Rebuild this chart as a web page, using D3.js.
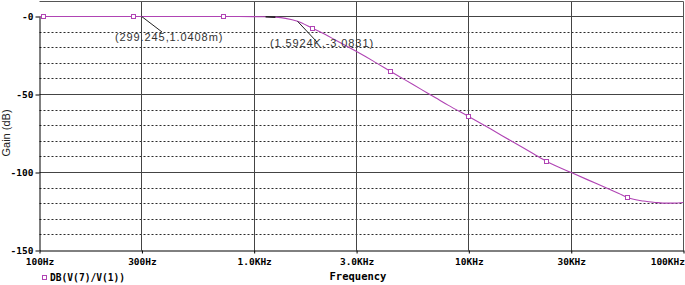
<!DOCTYPE html>
<html lang="en">
<head>
<meta charset="UTF-8">
<title>Gain vs Frequency</title>
<style>
  body { margin: 0; background: #fff; }
  svg { display: block; }
  .pix { font-family: "DejaVu Sans Mono", monospace; font-weight: bold; fill: #000; }
  .note { font-family: "Liberation Sans", Arial, sans-serif; font-size: 11px; letter-spacing: 0.9px; fill: #333; }
</style>
</head>
<body>
<svg width="685" height="285"></svg>
<script src="https://d3js.org/d3.v7.min.js"></script>
<script>
// trace DB(V(7)/V(1))
const freqs = [100, 200, 300, 500, 700, 1000, 1130, 1256, 1400, 1592.4, 1883, 2000, 2400, 3000, 3590,
               4347, 5000, 6000, 7000, 8000, 10070, 12600, 15630, 20000, 23170, 30000, 40000,
               50000, 55200, 65000, 73800, 80000, 90000, 100000];
const gains = [0, 0, 0, 0, 0, -0.05, -0.12, -0.4, -1.2, -3.08, -7.8, -9.5, -15.2, -22.5, -28.6,
               -35.4, -40.3, -46.7, -52.1, -56.8, -64.4, -72, -79.5, -88, -93.1, -100, -107.6,
               -113.5, -116.2, -118.3, -119.2, -119.6, -119.6, -119.2];

// symbol markers on the trace
const markFreqs = [105.5, 277, 726, 1883, 4347, 10070, 23170, 55200];
const markGains = [0, 0, 0, -7.8, -35.4, -64.4, -93.1, -116.2];

// axis ticks
const xTicks = [100, 300, 1000, 3000, 10000, 30000, 100000];
const xTickLabels = ['100Hz', '300Hz', '1.0KHz', '3.0KHz', '10KHz', '30KHz', '100KHz'];
const yTicks = [0, -50, -100, -150];
const yTickLabels = ['-0', '-50', '-100', '-150'];
const yMinor = [-10, -20, -30, -40, -60, -70, -80, -90, -110, -120, -130, -140];

// cursor labels
const cursorFreqs = [299.245, 1592.4];
const cursorGains = [0.0010408, -3.0831];
const cursorTexts = ['(299.245,1.0408m)', '(1.5924K,-3.0831)'];

const traceColor = '#b044b4';
const pL = 39.5, pR = 683.5, pT = 1.5, pB = 250.5;

const svg = d3.select('svg');
const x = d3.scaleLog().domain([100, 100000]).range([pL, pR]);
const y = d3.scaleLinear().domain([-150, 0]).range([pB, 16.5]);
const py = v => Math.round(y(v) - 0.5) + 0.5;

// dotted grid rows
svg.append('g').selectAll('line').data(yMinor).enter().append('line')
  .attr('x1', pL).attr('x2', pR)
  .attr('y1', d => py(d)).attr('y2', d => py(d))
  .attr('stroke', '#2a2a2a').attr('stroke-dasharray', '2,2');

// solid grid rows and columns
svg.append('g').selectAll('line').data([0, -50, -100]).enter().append('line')
  .attr('x1', pL).attr('x2', pR)
  .attr('y1', d => py(d)).attr('y2', d => py(d))
  .attr('stroke', '#444');
svg.append('g').selectAll('line').data(xTicks.slice(1, -1)).enter().append('line')
  .attr('x1', d => Math.round(x(d) - 0.5) + 0.5).attr('x2', d => Math.round(x(d) - 0.5) + 0.5)
  .attr('y1', pT).attr('y2', pB)
  .attr('stroke', '#444');

// frame
svg.append('path')
  .attr('d', `M${pL},${pT}H${pR}V${pB}`)
  .attr('fill', 'none').attr('stroke', '#555');

// axes
const xAxis = svg.append('g')
  .attr('transform', `translate(0,${pB})`)
  .call(d3.axisBottom(x).tickValues(xTicks)
    .tickFormat((d, i) => xTickLabels[i]).tickSize(3).tickSizeOuter(0).tickPadding(5));
const yAxis = svg.append('g')
  .attr('transform', `translate(${pL},0)`)
  .call(d3.axisLeft(y).tickValues(yTicks)
    .tickFormat((d, i) => yTickLabels[i]).tickSize(4).tickSizeOuter(0).tickPadding(2));
[xAxis, yAxis].forEach(a => {
  a.select('.domain').attr('stroke', '#000');
  a.selectAll('.tick line').attr('stroke', '#000');
  a.selectAll('text').attr('class', 'pix').attr('font-size', 9.5).attr('font-family', null);
});
xAxis.selectAll('.tick').filter(d => d === 100000).select('text')
  .attr('text-anchor', 'end').attr('x', 1);

// trace
svg.append('clipPath').attr('id', 'plot').append('rect')
  .attr('x', pL).attr('y', pT).attr('width', pR - pL).attr('height', pB - pT);
const pts = freqs.map((f, i) => [f, gains[i]]);
const line = d3.line().x(d => x(d[0])).y(d => y(d[1])).curve(d3.curveMonotoneX);
svg.append('path').datum(pts)
  .attr('clip-path', 'url(#plot)')
  .attr('d', line).attr('fill', 'none')
  .attr('stroke', traceColor).attr('stroke-width', 1.1);

// short dark stretch left by the cursor
svg.append('path').datum(pts.filter(d => d[0] >= 1130 && d[0] <= 1256))
  .attr('d', line).attr('fill', 'none').attr('stroke', '#222').attr('stroke-width', 1.6);

svg.append('g').selectAll('rect').data(markFreqs).enter().append('rect')
  .attr('x', d => Math.round(x(d)) - 2.5)
  .attr('y', (d, i) => Math.round(y(markGains[i])) - 2.5)
  .attr('width', 4).attr('height', 4)
  .attr('fill', '#fff').attr('stroke', traceColor);

// cursor annotations
const noteEnds = [[162, 32], [317, 42]];
const notePos = [[115, 41], [270, 47]];
cursorFreqs.forEach((f, i) => {
  svg.append('line')
    .attr('x1', x(f)).attr('y1', y(cursorGains[i]))
    .attr('x2', noteEnds[i][0]).attr('y2', noteEnds[i][1])
    .attr('stroke', '#222');
  svg.append('text').attr('class', 'note')
    .attr('x', notePos[i][0]).attr('y', notePos[i][1])
    .text(cursorTexts[i]);
});

// titles
svg.append('text').attr('class', 'pix').attr('font-size', 10.5)
  .attr('x', 358).attr('y', 280).attr('text-anchor', 'middle')
  .text('Frequency');
svg.append('text')
  .attr('transform', 'translate(10,133) rotate(-90)')
  .attr('text-anchor', 'middle')
  .attr('font-family', '"Liberation Sans", Arial, sans-serif')
  .attr('font-size', 11).attr('fill', '#222')
  .text('Gain (dB)');

// legend
svg.append('rect').attr('x', 42.5).attr('y', 275.5).attr('width', 4).attr('height', 4)
  .attr('fill', '#fff').attr('stroke', traceColor);
svg.append('text').attr('class', 'pix').attr('font-size', 9.6)
  .attr('x', 50).attr('y', 281)
  .text('DB(V(7)/V(1))');
</script>
</body>
</html>
